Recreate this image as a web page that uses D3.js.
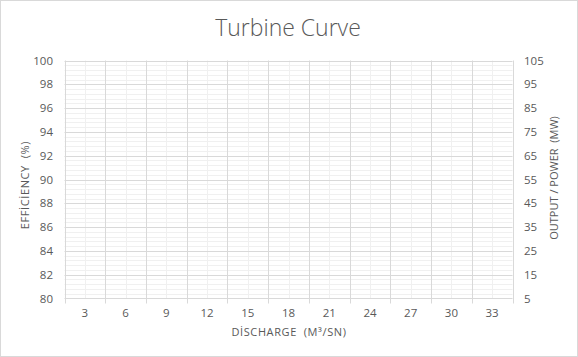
<!DOCTYPE html>
<html><head><meta charset="utf-8">
<script src="https://cdn.jsdelivr.net/npm/d3@7"></script>
<style>body{margin:0;background:#fff}svg{display:block}text{font-family:"Open Sans",Calibri,sans-serif;fill:#595959}</style>
</head><body>
<svg id="c" width="578" height="357"></svg>
<script>
const title = "Turbine Curve";
const categories = [3,6,9,12,15,18,21,24,27,30,33];
const leftDomain = [80,100];
const leftTicks = [80,82,84,86,88,90,92,94,96,98,100];
const rightDomain = [5,105];
const rightTicks = [5,15,25,35,45,55,65,75,85,95,105];
const xTitle = "DİSCHARGE\u00a0\u00a0(M³/SN)";
const yLeftTitle = "EFFİCİENCY\u00a0\u00a0(%)";
const yRightTitle = "OUTPUT / POWER\u00a0\u00a0(MW)";

const W=578,H=357, L=64.5, R=512.5, T=60.5, B=298.5;
const svg=d3.select("#c");
svg.append("rect").attr("x",0.5).attr("y",0.5).attr("width",W-1).attr("height",H-1).attr("fill","#fff").attr("stroke","#d9d9d9");

const x=d3.scaleBand().domain(categories).range([L,R]).padding(0);
const yL=d3.scaleLinear().domain(leftDomain).range([B,T]);
const yR=d3.scaleLinear().domain(rightDomain).range([B,T]);

const minor=d3.range(80,100.001,0.4).filter(v=>Math.abs(v/2-Math.round(v/2))>1e-6);
svg.append("g").selectAll("line").data(minor).join("line")
 .attr("x1",L).attr("x2",R).attr("y1",d=>Math.round(yL(d))+0.5).attr("y2",d=>Math.round(yL(d))+0.5)
 .attr("stroke","#f0f0f0");
svg.append("g").selectAll("line").data(categories).join("line")
 .attr("x1",d=>Math.round(x(d)+x.bandwidth()/2)+0.5).attr("x2",d=>Math.round(x(d)+x.bandwidth()/2)+0.5)
 .attr("y1",T).attr("y2",B).attr("stroke","#f0f0f0");
svg.append("g").selectAll("line").data(leftTicks.slice(1)).join("line")
 .attr("x1",L).attr("x2",R).attr("y1",d=>Math.round(yL(d))+0.5).attr("y2",d=>Math.round(yL(d))+0.5)
 .attr("stroke","#d9d9d9");
const bounds=categories.map(c=>x(c)).concat([x(categories[categories.length-1])+x.bandwidth()]);
svg.append("g").selectAll("line").data(bounds).join("line")
 .attr("x1",d=>Math.round(d)+0.5).attr("x2",d=>Math.round(d)+0.5)
 .attr("y1",T).attr("y2",B+5).attr("stroke","#d9d9d9");
svg.append("line").attr("x1",L).attr("x2",R).attr("y1",B).attr("y2",B).attr("stroke","#d9d9d9");

svg.append("g").selectAll("text").data(leftTicks).join("text")
 .attr("x",53).attr("y",d=>yL(d)).attr("dy","0.35em").attr("text-anchor","end").attr("font-size",11.5).text(d=>d);
svg.append("g").selectAll("text").data(rightTicks).join("text")
 .attr("x",524).attr("y",d=>yR(d)).attr("dy","0.35em").attr("text-anchor","start").attr("font-size",11.5).text(d=>d);
svg.append("g").selectAll("text").data(categories).join("text")
 .attr("x",d=>x(d)+x.bandwidth()/2).attr("y",313).attr("dy","0.35em").attr("text-anchor","middle").attr("font-size",11.5).text(d=>d);

svg.append("text").attr("x",288).attr("y",36).attr("text-anchor","middle").attr("font-size",23).attr("font-weight",300).text(title);
svg.append("text").attr("x",289).attr("y",336).attr("text-anchor","middle").attr("font-size",11).attr("letter-spacing",0.6).text(xTitle);
svg.append("text").attr("transform","translate(29,185) rotate(-90)").attr("text-anchor","middle").attr("font-size",11).attr("letter-spacing",0.6).text(yLeftTitle);
svg.append("text").attr("transform","translate(558,178) rotate(-90)").attr("text-anchor","middle").attr("font-size",11).attr("letter-spacing",0).text(yRightTitle);
</script>
</body></html>
